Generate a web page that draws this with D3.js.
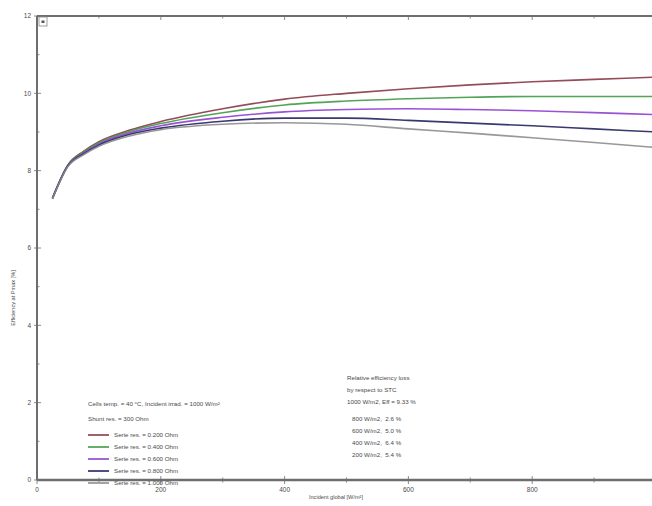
<!DOCTYPE html>
<html>
<head>
<meta charset="utf-8">
<script src="https://cdn.jsdelivr.net/npm/d3@7"></script>
<style>
  html, body { margin: 0; padding: 0; background: #fff; }
  svg { display: block; font-family: "Liberation Sans", Arial, sans-serif; }
</style>
</head>
<body>
<svg id="chart" width="652" height="506"></svg>
<script>
// ---- data ----
const irradiance = [25, 50, 75, 100, 150, 200, 300, 400, 500, 600, 700, 800, 900, 1000];
const series02 = [7.29, 8.15, 8.50, 8.75, 9.05, 9.27, 9.60, 9.85, 10.00, 10.12, 10.22, 10.30, 10.36, 10.42];
const series04 = [7.29, 8.14, 8.48, 8.72, 9.02, 9.22, 9.50, 9.70, 9.80, 9.86, 9.90, 9.92, 9.92, 9.92];
const series06 = [7.28, 8.13, 8.45, 8.69, 8.98, 9.16, 9.38, 9.52, 9.58, 9.60, 9.58, 9.55, 9.50, 9.45];
const series08 = [7.28, 8.12, 8.43, 8.66, 8.94, 9.10, 9.28, 9.36, 9.36, 9.30, 9.23, 9.16, 9.08, 9.00];
const series10 = [7.27, 8.11, 8.41, 8.63, 8.90, 9.06, 9.20, 9.24, 9.20, 9.08, 8.97, 8.85, 8.73, 8.60];
const seriesNames = ["Serie res. = 0.200 Ohm", "Serie res. = 0.400 Ohm", "Serie res. = 0.600 Ohm", "Serie res. = 0.800 Ohm", "Serie res. = 1.000 Ohm"];
const seriesColors = ["#8a3848", "#3f9a45", "#8e3fd0", "#23235e", "#8d8d8d"];
const xTicks = [0, 200, 400, 600, 800];
const yTicks = [0, 2, 4, 6, 8, 10, 12];
const headerLines = ["Cells temp. = 40 °C, Incident irrad. = 1000 W/m²", "Shunt res. = 300 Ohm"];
const lossLines = ["Relative efficiency loss", "by respect to STC", "1000 W/m2, Eff = 9.33 %"];
const lossValues = ["800 W/m2,  2.6 %", "600 W/m2,  5.0 %", "400 W/m2,  6.4 %", "200 W/m2,  5.4 %"];
const allSeries = [series02, series04, series06, series08, series10];

// ---- layout ----
const svg = d3.select("#chart");
const x = d3.scaleLinear().domain([0, 1000]).range([37, 656]);
const y = d3.scaleLinear().domain([0, 12]).range([480, 16]);
const axisColor = "#6e6e6e";
const textColor = "#4a4a4a";

// curves
const line = d3.line()
  .x((d, i) => x(irradiance[i]))
  .y(d => y(d))
  .curve(d3.curveMonotoneX);

allSeries.forEach((s, k) => {
  svg.append("path")
    .datum(s)
    .attr("d", line)
    .attr("fill", "none")
    .attr("stroke", seriesColors[k])
    .attr("stroke-width", 1.6)
    .attr("stroke-opacity", 0.9);
});

// axes lines
const g = svg.append("g");
g.append("line").attr("x1", x(0)).attr("x2", 652).attr("y1", y(12)).attr("y2", y(12))
  .attr("stroke", axisColor).attr("stroke-width", 2);
g.append("line").attr("x1", x(0)).attr("x2", 652).attr("y1", y(0)).attr("y2", y(0))
  .attr("stroke", axisColor).attr("stroke-width", 2.6);
g.append("line").attr("x1", x(0)).attr("x2", x(0)).attr("y1", y(12)).attr("y2", y(0))
  .attr("stroke", axisColor).attr("stroke-width", 2);

// x ticks (major + minor) on bottom and top
d3.range(0, 1001, 100).forEach(v => {
  const major = v % 200 === 0;
  const len = major ? 4 : 2.5;
  g.append("line").attr("x1", x(v)).attr("x2", x(v)).attr("y1", y(0) - len).attr("y2", y(0) + len)
    .attr("stroke", axisColor).attr("stroke-width", 0.8);
  g.append("line").attr("x1", x(v)).attr("x2", x(v)).attr("y1", y(12)).attr("y2", y(12) + len)
    .attr("stroke", axisColor).attr("stroke-width", 0.8);
});
// y ticks
d3.range(0, 13, 1).forEach(v => {
  const major = v % 2 === 0;
  const len = major ? 4 : 2.5;
  g.append("line").attr("x1", x(0) - (major ? 3 : 0)).attr("x2", x(0) + len).attr("y1", y(v)).attr("y2", y(v))
    .attr("stroke", axisColor).attr("stroke-width", 0.8);
});

// tick labels
svg.selectAll(".xl").data(xTicks).enter().append("text")
  .attr("x", d => x(d)).attr("y", 492)
  .attr("text-anchor", "middle").attr("font-size", 6.5).attr("fill", textColor)
  .text(d => d);
svg.selectAll(".yl").data(yTicks).enter().append("text")
  .attr("x", 31).attr("y", d => y(d) + 2.3)
  .attr("text-anchor", "end").attr("font-size", 6.5).attr("fill", textColor)
  .text(d => d);

// small box at top-left corner
svg.append("rect").attr("x", 39).attr("y", 17).attr("width", 8).attr("height", 9)
  .attr("fill", "#fff").attr("stroke", "#888").attr("stroke-width", 0.8);
svg.append("rect").attr("x", 41.5).attr("y", 20.5).attr("width", 3).attr("height", 2.5).attr("fill", "#555");

// axis titles
svg.append("text").attr("x", 336).attr("y", 499)
  .attr("text-anchor", "middle").attr("font-size", 5.6).attr("fill", textColor)
  .text("Incident global [W/m²]");
svg.append("text").attr("transform", "translate(15,298) rotate(-90)")
  .attr("text-anchor", "middle").attr("font-size", 5.6).attr("fill", textColor)
  .text("Efficiency at Pmax [%]");

// legend
headerLines.forEach((t, i) => {
  svg.append("text").attr("x", 88).attr("y", 406 + i * 15)
    .attr("font-size", 6.2).attr("fill", textColor).text(t);
});
seriesNames.forEach((t, i) => {
  const yy = 435 + i * 12;
  svg.append("line").attr("x1", 88).attr("x2", 109).attr("y1", yy).attr("y2", yy)
    .attr("stroke", seriesColors[i]).attr("stroke-width", 1.6);
  svg.append("text").attr("x", 114).attr("y", yy + 2.2)
    .attr("font-size", 6.2).attr("fill", textColor).text(t);
});

// relative loss text block
lossLines.forEach((t, i) => {
  svg.append("text").attr("x", 347).attr("y", 380 + i * 12)
    .attr("font-size", 6.2).attr("fill", textColor).text(t);
});
lossValues.forEach((t, i) => {
  svg.append("text").attr("x", 352).attr("y", 421 + i * 12)
    .attr("font-size", 6.2).attr("fill", textColor).attr("xml:space", "preserve").style("white-space", "pre").text(t);
});
</script>
</body>
</html>
